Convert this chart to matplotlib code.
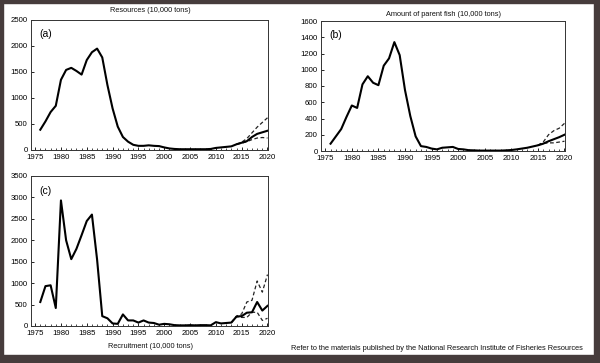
import matplotlib
matplotlib.use("Agg")
import matplotlib.pyplot as plt
from matplotlib.patches import Rectangle
from matplotlib.ticker import MultipleLocator

plt.rcParams['font.family'] = ['Liberation Sans', 'DejaVu Sans']

years = list(range(1976, 2021))

# (a) Resources
res_main = [390, 550, 730, 850, 1350, 1540, 1580, 1520, 1450, 1730,
            1880, 1950, 1780, 1250, 800, 450, 250, 160, 100, 80,
            80, 90, 80, 75, 50, 30, 20, 15, 15, 15,
            15, 15, 15, 20, 40, 50, 60, 70, 110, 140,
            170, 250, 310, 340, 370]
res_years_fc = [2014, 2015, 2016, 2017, 2018, 2019, 2020]
res_high = [110, 150, 220, 330, 440, 530, 620]
res_low = [110, 130, 160, 200, 230, 240, 230]

# (b) Amount of parent fish
par_main = [90, 180, 270, 420, 560, 530, 820, 920, 840, 810,
            1050, 1140, 1340, 1180, 750, 430, 180, 60, 50, 30,
            20, 40, 45, 50, 25, 20, 10, 8, 5, 5,
            5, 5, 5, 8, 12, 20, 30, 40, 55, 70,
            90, 120, 145, 170, 200]
par_years_fc = [2015, 2016, 2017, 2018, 2019, 2020]
par_high = [70, 110, 200, 250, 280, 340]
par_low = [70, 95, 100, 100, 110, 120]

# (c) Recruitment
rec_main = [560, 930, 950, 420, 2930, 2000, 1560, 1800, 2120, 2450,
            2600, 1550, 230, 180, 60, 50, 270, 130, 130, 80,
            130, 80, 70, 30, 50, 40, 20, 15, 15, 20,
            15, 20, 20, 15, 90, 60, 70, 80, 220, 230,
            310, 320, 560, 360, 470]
rec_years_fc = [2013, 2014, 2015, 2016, 2017, 2018, 2019, 2020]
rec_high = [80, 230, 280, 560, 600, 1050, 790, 1200]
rec_low = [80, 220, 200, 200, 320, 320, 130, 180]

fig = plt.figure(figsize=(6.0, 3.63), dpi=100)
fig.patch.set_facecolor("white")

border = "#463c3c"
fig.patches.append(Rectangle((0, 0), 3 / 600, 1, transform=fig.transFigure, color=border, zorder=10))
fig.patches.append(Rectangle((1 - 6 / 600, 0), 6 / 600, 1, transform=fig.transFigure, color=border, zorder=10))
fig.patches.append(Rectangle((0, 1 - 3 / 363), 1, 3 / 363, transform=fig.transFigure, color=border, zorder=10))
fig.patches.append(Rectangle((0, 0), 1, 8 / 363, transform=fig.transFigure, color=border, zorder=10))


def panel(rect, main, fy, hi, lo, ymax, ystep, label):
    ax = fig.add_axes(rect)
    ax.plot(years, main, color="black", lw=1.5, zorder=3)
    ax.plot(fy, hi, color="#222222", lw=0.9, ls=(0, (3, 2)), zorder=2)
    ax.plot(fy, lo, color="#222222", lw=0.9, ls=(0, (3, 2)), zorder=2)
    ax.set_xlim(1974.2, 2020.1)
    ax.set_ylim(0, ymax)
    ax.xaxis.set_major_locator(MultipleLocator(5))
    ax.xaxis.set_minor_locator(MultipleLocator(1))
    ax.yaxis.set_major_locator(MultipleLocator(ystep))
    ax.tick_params(axis="both", which="both", direction="in", labelsize=5.6)
    ax.tick_params(axis="x", pad=3)
    ax.tick_params(axis="y", pad=2.5)
    ax.tick_params(which="major", length=2.5, width=0.6)
    ax.tick_params(which="minor", length=1.5, width=0.5)
    for s in ax.spines.values():
        s.set_linewidth(0.7)
        s.set_color("#333333")
    ax.text(0.035, 0.93, label, transform=ax.transAxes, fontsize=7.5, va="top", ha="left")
    return ax


ax_a = panel([31 / 600, 1 - 150 / 363, 237 / 600, 130 / 363], res_main,
             res_years_fc, res_high, res_low, 2500, 500, "(a)")
ax_b = panel([321 / 600, 1 - 151 / 363, 244 / 600, 130 / 363], par_main,
             par_years_fc, par_high, par_low, 1600, 200, "(b)")
ax_c = panel([31 / 600, 1 - 326 / 363, 237 / 600, 150 / 363], rec_main,
             rec_years_fc, rec_high, rec_low, 3500, 500, "(c)")

tfont = dict(fontsize=5.3, color="#111111")
fig.text(150 / 600, 1 - 11 / 363, "Resources (10,000 tons)", ha="center", va="center", **tfont)
fig.text(443 / 600, 1 - 15 / 363, "Amount of parent fish (10,000 tons)", ha="center", va="center", **tfont)
fig.text(150 / 600, 1 - 347 / 363, "Recruitment (10,000 tons)", ha="center", va="center", **tfont)
fig.text(437 / 600, 1 - 348 / 363,
         "Refer to the materials published by the National Research Institute of Fisheries Resources",
         ha="center", va="center", **tfont)

fig.savefig("out.png", dpi=100, facecolor="white")
